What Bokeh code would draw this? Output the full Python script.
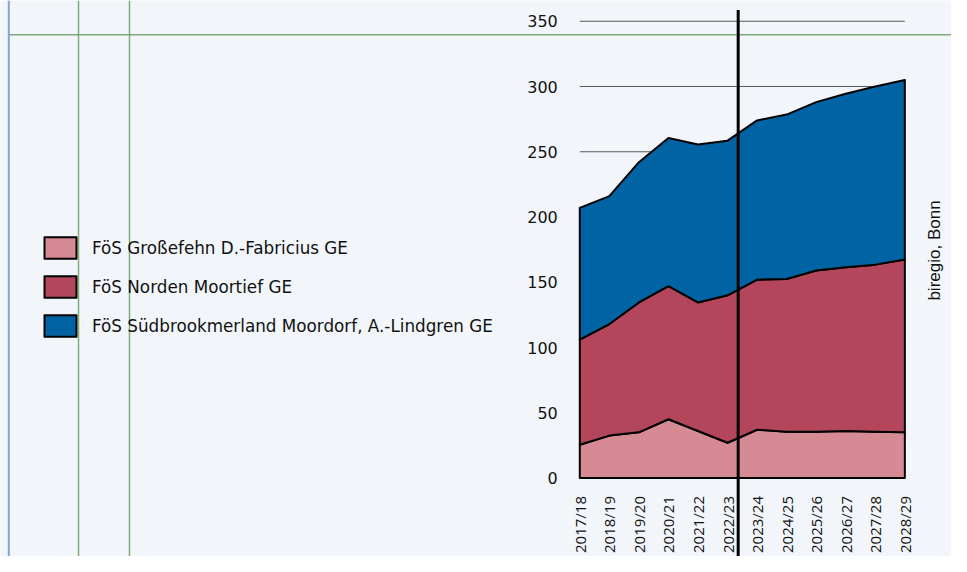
import math
from bokeh.plotting import figure
from bokeh.models import (LinearAxis, FixedTicker, Span, Legend, LegendItem,
                          Range1d, Label)
from bokeh.embed import file_html
from bokeh.resources import INLINE

# ---------------- data ----------------
years = ["2017/18", "2018/19", "2019/20", "2020/21", "2021/22", "2022/23",
         "2023/24", "2024/25", "2025/26", "2026/27", "2027/28", "2028/29"]
grossefehn = [25.5, 32.5, 35, 45, 36, 27, 37, 35.5, 35.5, 36, 35.5, 35]
norden = [80.5, 85.5, 99.5, 102, 98.5, 113, 115, 117, 123.5, 125.5, 128, 132.5]
suedbrookmerland = [101, 98, 107.5, 113.5, 121, 118.5, 122, 126, 129, 133, 136.5, 137.5]
series_names = ["FöS Großefehn D.-Fabricius GE",
                "FöS Norden Moortief GE",
                "FöS Südbrookmerland Moordorf, A.-Lindgren GE"]
y_ticks = [0, 50, 100, 150, 200, 250, 300, 350]
marker_pos = 5.36          # vertical marker between 2022/23 and 2023/24
source_text = "biregio, Bonn"

# ---------------- styles / layout ----------------
colors = ["#D58A94", "#B4465B", "#0064A4"]
bg = "#F2F6FA"
text_color = "#111111"
font = "DejaVu Sans"
W, H = 951, 556
x0_px = 579.3        # pixel of first category from frame left
px_per_idx = 29.55
y0_px = 477.5        # pixel of value 0 from frame top
px_per_unit = 1.305

x_start = -x0_px / px_per_idx
x_end = (W - x0_px) / px_per_idx
y_end = y0_px / px_per_unit
y_start = -(H - y0_px) / px_per_unit


def sx(px):  # screen x (frame) -> data
    return x_start + px / px_per_idx


def sy(px):  # screen y from top -> data
    return y_end - px / px_per_unit


p = figure(width=W, height=H,
           x_range=Range1d(x_start, x_end), y_range=Range1d(y_start, y_end),
           x_axis_location=None, y_axis_location=None, min_border=0,
           toolbar_location=None, output_backend="svg",
           background_fill_color=bg, border_fill_color=bg,
           outline_line_color=None)
for g in p.grid:
    g.visible = False

idx = list(range(len(years)))

# decorative guide lines
green = "#6E9E62"
for gx in (78, 129):
    p.add_layout(Span(location=sx(gx), dimension="height",
                      line_color=green, line_width=1.5, line_alpha=0.85))
p.segment(x0=sx(8), x1=x_end, y0=sy(34.3), y1=sy(34.3),
          line_color=green, line_width=1.5, line_alpha=0.85)
p.add_layout(Span(location=sx(8.3), dimension="height",
                  line_color="#7FA8D8", line_width=2))

# grid lines only across the data range
p.segment(x0=idx[0], x1=idx[-1], y0=y_ticks, y1=y_ticks,
          line_color="#5A5A5A", line_width=1)

# stacked areas
renderers = []
bottom = [0.0] * len(years)
for vals, c in zip([grossefehn, norden, suedbrookmerland], colors):
    top = [b + v for b, v in zip(bottom, vals)]
    xs = idx + idx[::-1]
    ys = top + bottom[::-1]
    r = p.patch(xs, ys, fill_color=c, line_color="black", line_width=2,
                line_join="round")
    renderers.append(r)
    bottom = top

# marker line
p.segment(x0=marker_pos, x1=marker_pos, y0=sy(9.5), y1=y_start,
          line_color="black", line_width=3)

# axes
yaxis = LinearAxis(fixed_location=0, ticker=FixedTicker(ticks=y_ticks),
                   axis_line_color=None, major_tick_line_color=None,
                   minor_tick_line_color=None, major_tick_in=0, major_tick_out=0,
                   major_label_standoff=22,
                   major_label_text_font=font,
                   major_label_text_font_size="16px",
                   major_label_text_color=text_color)
p.add_layout(yaxis, "left")

xaxis = LinearAxis(fixed_location=0, ticker=FixedTicker(ticks=idx),
                   major_label_overrides={i: y for i, y in zip(idx, years)},
                   major_label_orientation=math.pi / 2,
                   axis_line_color=None, major_tick_line_color=None,
                   minor_tick_line_color=None, major_tick_in=0, major_tick_out=0,
                   major_label_standoff=18,
                   major_label_text_font="Open Sans",
                   major_label_text_font_size="15px",
                   major_label_text_color=text_color)
p.add_layout(xaxis, "below")

# legend
legend = Legend(items=[LegendItem(label=n, renderers=[r])
                       for n, r in zip(series_names, renderers)],
                location=(40, H - 339), padding=0, margin=0,
                glyph_width=40, glyph_height=27, spacing=12, label_standoff=12,
                label_text_font=font, label_text_font_size="16.8px",
                label_text_color=text_color,
                border_line_color=None, background_fill_alpha=0)
p.add_layout(legend)

# source label
p.add_layout(Label(x=933.5, y=H - 250, x_units="screen", y_units="screen",
                   text=source_text, angle=math.pi / 2,
                   text_align="center", text_baseline="middle",
                   text_font="Liberation Sans", text_font_size="17px",
                   text_color=text_color))

open("out.html", "w").write(file_html(p, INLINE))
